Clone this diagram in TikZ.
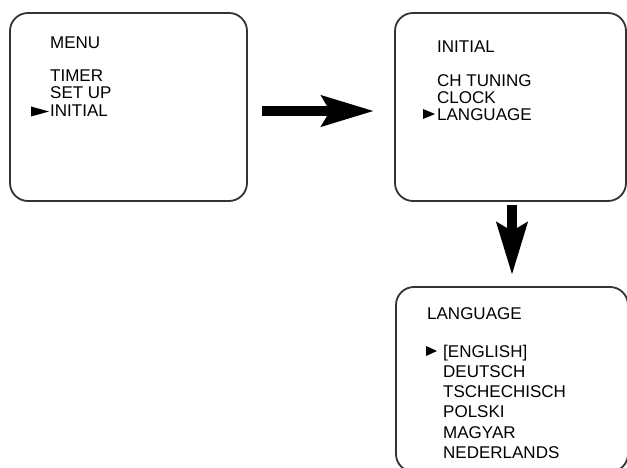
\documentclass[tikz,border=0pt]{standalone}
\usepackage{fontspec}
\setmainfont{Liberation Sans}
\usetikzlibrary{arrows.meta}

\newcommand{\pointer}[3]{\fill[black] (#1,#2) -- ++(-#3,-5) -- ++(0,10) -- cycle;}

\begin{document}
\begin{tikzpicture}[x=1pt,y=-1pt,
	screen/.style={draw=black!80,line width=1.8pt,rounded corners=18pt,fill=none},
	item/.style={anchor=base west,inner sep=0pt,text=black,font=\fontsize{17}{20}\selectfont},
	bigarrow/.style={line width=10pt,-{Stealth[length=52pt,width=30pt,inset=8pt]}}]

	\useasboundingbox (0,0) rectangle (627,468);

	\node[screen,minimum width=237pt,minimum height=188pt] (menubox) at (128.5,107) {};
	\node[screen,minimum width=231pt,minimum height=188pt] (initbox) at (510.5,107) {};
	\node[screen,minimum width=232pt,minimum height=185pt] (langbox) at (512,379.5) {};

	% first screen
	\node[item] (m0) at (50,49)  {MENU};
	\node[item] (m1) at (50,82)  {TIMER};
	\node[item] (m2) at (50,99)  {SET UP};
	\node[item] (m3) at (50,117) {INITIAL};
	\pointer{49}{111.5}{18}

	% second screen
	\node[item] (i0) at (437,53)  {INITIAL};
	\node[item] (i1) at (437,87)  {CH TUNING};
	\node[item] (i2) at (437,104) {CLOCK};
	\node[item] (i3) at (437,121) {LANGUAGE};
	\pointer{435}{114}{12}

	% third screen
	\node[item] (l0) at (427,319) {LANGUAGE};
	\node[item] (l1) at (443,357) {[ENGLISH]};
	\node[item] (l2) at (443,377) {DEUTSCH};
	\node[item] (l3) at (443,397) {TSCHECHISCH};
	\node[item] (l4) at (443,417) {POLSKI};
	\node[item] (l5) at (443,438) {MAGYAR};
	\node[item] (l6) at (443,458) {NEDERLANDS};
	\pointer{437}{351}{11}

	\draw[bigarrow,shorten <=14pt,shorten >=20pt] ([yshift=-4pt]menubox.east) -- ([yshift=-4pt]initbox.west);
	\draw[bigarrow,shorten <=3pt,shorten >=11pt] ([xshift=1.5pt]initbox.south) -- ([xshift=1.5pt]initbox.south |- langbox.north);

\end{tikzpicture}
\end{document}
